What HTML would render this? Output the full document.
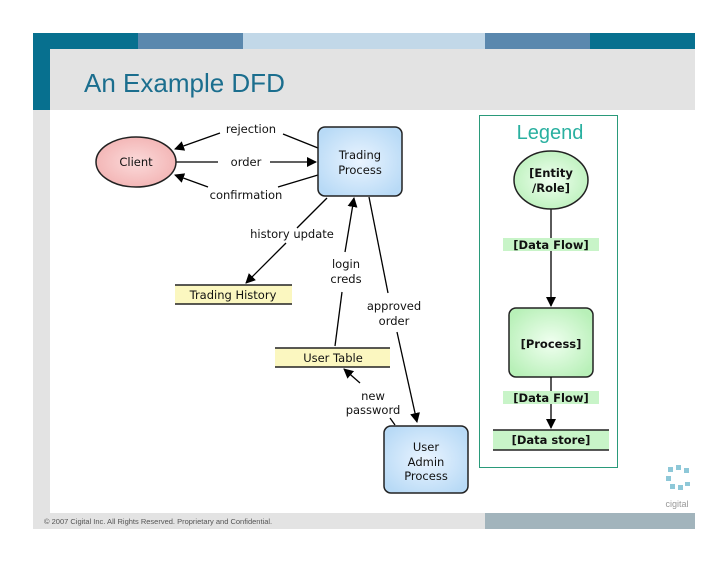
<!DOCTYPE html>
<html><head><meta charset="utf-8"><style>
body{margin:0;width:728px;height:563px;background:#fff;overflow:hidden;font-family:"Liberation Sans",sans-serif}
</style></head><body>
<svg width="728" height="563" xmlns="http://www.w3.org/2000/svg" style="position:absolute;left:0;top:0">
<defs>
<marker id="a" markerWidth="10" markerHeight="10" refX="9" refY="5" orient="auto" markerUnits="userSpaceOnUse"><path d="M0,0 L10,5 L0,10 z" fill="#000"/></marker>
<radialGradient id="bl" cx="50%" cy="50%" r="60%"><stop offset="0" stop-color="#eaf4ff"/><stop offset="1" stop-color="#b8daf6"/></radialGradient>
<radialGradient id="gr" cx="50%" cy="50%" r="60%"><stop offset="0" stop-color="#f0fff0"/><stop offset="1" stop-color="#b8f0b8"/></radialGradient>
<radialGradient id="pk" cx="50%" cy="50%" r="60%"><stop offset="0" stop-color="#fbdada"/><stop offset="1" stop-color="#f2b0b0"/></radialGradient>
</defs>
<rect x="33" y="33" width="105" height="16" fill="#07708f"/>
<rect x="138" y="33" width="105" height="16" fill="#5a88ae"/>
<rect x="243" y="33" width="242" height="16" fill="#c2d8e8"/>
<rect x="485" y="33" width="105" height="16" fill="#5a88ae"/>
<rect x="590" y="33" width="105" height="16" fill="#07708f"/>
<rect x="50" y="49" width="645" height="61" fill="#e3e3e3"/>
<rect x="33" y="49" width="17" height="61" fill="#07708f"/>
<rect x="33" y="110" width="17" height="418" fill="#e3e3e3"/>
<rect x="33" y="513" width="452" height="16" fill="#e3e3e3"/>
<rect x="485" y="513" width="210" height="16" fill="#a2b4bc"/>
<text x="84" y="92" font-size="26" fill="#1b6e8e">An Example DFD</text>
<text x="44" y="524" font-size="7.5" fill="#555">© 2007 Cigital Inc. All Rights Reserved. Proprietary and Confidential.</text>
<g fill="#8ec8d8"><rect x="668" y="467" width="5" height="5"/><rect x="676" y="465" width="5" height="5"/><rect x="684" y="468" width="5" height="5"/><rect x="666" y="476" width="5" height="5"/><rect x="670" y="484" width="5" height="5"/><rect x="678" y="485" width="5" height="5"/><rect x="685" y="482" width="5" height="4"/></g>
<text x="677" y="507" font-size="9" fill="#999" text-anchor="middle">cigital</text>
<g font-size="11.5" fill="#111" text-anchor="middle" font-family="DejaVu Sans, sans-serif">
<line x1="318" y1="148" x2="283" y2="134" stroke="#000" stroke-width="1.3"/>
<line x1="220" y1="133" x2="175" y2="149" stroke="#000" stroke-width="1.3" marker-end="url(#a)"/>
<text x="251" y="133">rejection</text>
<line x1="176" y1="162" x2="218" y2="162" stroke="#000" stroke-width="1.3"/>
<line x1="270" y1="162" x2="316" y2="162" stroke="#000" stroke-width="1.3" marker-end="url(#a)"/>
<text x="246" y="166">order</text>
<line x1="318" y1="175" x2="278" y2="187" stroke="#000" stroke-width="1.3"/>
<line x1="208" y1="187" x2="175" y2="175" stroke="#000" stroke-width="1.3" marker-end="url(#a)"/>
<text x="246" y="199">confirmation</text>
<line x1="327" y1="198" x2="297" y2="228" stroke="#000" stroke-width="1.3"/>
<line x1="286" y1="243" x2="246" y2="283" stroke="#000" stroke-width="1.3" marker-end="url(#a)"/>
<text x="292" y="238">history update</text>
<line x1="335" y1="346" x2="342" y2="292" stroke="#000" stroke-width="1.3"/>
<line x1="345" y1="252" x2="354" y2="198" stroke="#000" stroke-width="1.3" marker-end="url(#a)"/>
<text x="346" y="268">login</text><text x="346" y="283">creds</text>
<line x1="369" y1="197" x2="388" y2="293" stroke="#000" stroke-width="1.3"/>
<line x1="397" y1="332" x2="417" y2="422" stroke="#000" stroke-width="1.3" marker-end="url(#a)"/>
<text x="394" y="310">approved</text><text x="394" y="325">order</text>
<line x1="360" y1="383" x2="344" y2="369" stroke="#000" stroke-width="1.3" marker-end="url(#a)"/>
<line x1="390" y1="418" x2="395" y2="425" stroke="#000" stroke-width="1.3"/>
<text x="373" y="400">new</text><text x="373" y="414">password</text>
<ellipse cx="136" cy="162" rx="40" ry="25" fill="url(#pk)" stroke="#222" stroke-width="1.5"/>
<text x="136" y="166">Client</text>
<rect x="318" y="127" width="84" height="69" rx="7" fill="url(#bl)" stroke="#222" stroke-width="1.5"/>
<text x="360" y="159">Trading</text><text x="360" y="174">Process</text>
<rect x="175" y="285" width="117" height="19" fill="#fbf7c0"/>
<line x1="175" y1="285" x2="292" y2="285" stroke="#222" stroke-width="1.5"/><line x1="175" y1="304" x2="292" y2="304" stroke="#222" stroke-width="1.5"/>
<text x="233" y="299">Trading History</text>
<rect x="275" y="348" width="115" height="19" fill="#fbf7c0"/>
<line x1="275" y1="348" x2="390" y2="348" stroke="#222" stroke-width="1.5"/><line x1="275" y1="367" x2="390" y2="367" stroke="#222" stroke-width="1.5"/>
<text x="333" y="362">User Table</text>
<rect x="384" y="426" width="84" height="67" rx="7" fill="url(#bl)" stroke="#222" stroke-width="1.5"/>
<text x="426" y="451">User</text><text x="426" y="466">Admin</text><text x="426" y="480">Process</text>
<rect x="479.5" y="115.5" width="138" height="352" fill="none" stroke="#2a9a7a"/>
<text x="550" y="139" font-size="20" fill="#2ab0a0" font-family="Liberation Sans, sans-serif">Legend</text>
<line x1="551" y1="208" x2="551" y2="306" stroke="#000" stroke-width="1.3" marker-end="url(#a)"/>
<rect x="503" y="238" width="96" height="13" fill="#c8f4c8"/>
<g font-weight="bold">
<text x="551" y="249">[Data Flow]</text>
<ellipse cx="551" cy="180" rx="37" ry="29" fill="url(#gr)" stroke="#222" stroke-width="1.5"/>
<text x="551" y="177">[Entity</text><text x="551" y="192">/Role]</text>
<rect x="509" y="308" width="84" height="69" rx="7" fill="url(#gr)" stroke="#222" stroke-width="1.5"/>
<text x="551" y="348">[Process]</text>
<line x1="551" y1="377" x2="551" y2="428" stroke="#000" stroke-width="1.3" marker-end="url(#a)"/>
<rect x="503" y="391" width="96" height="13" fill="#c8f4c8"/>
<text x="551" y="402">[Data Flow]</text>
<rect x="493" y="430" width="116" height="20" fill="#c8f4c8"/>
<line x1="493" y1="430" x2="609" y2="430" stroke="#222" stroke-width="1.5"/><line x1="493" y1="450" x2="609" y2="450" stroke="#222" stroke-width="1.5"/>
<text x="551" y="444">[Data store]</text>
</g>
</g>
</svg>
</body></html>
